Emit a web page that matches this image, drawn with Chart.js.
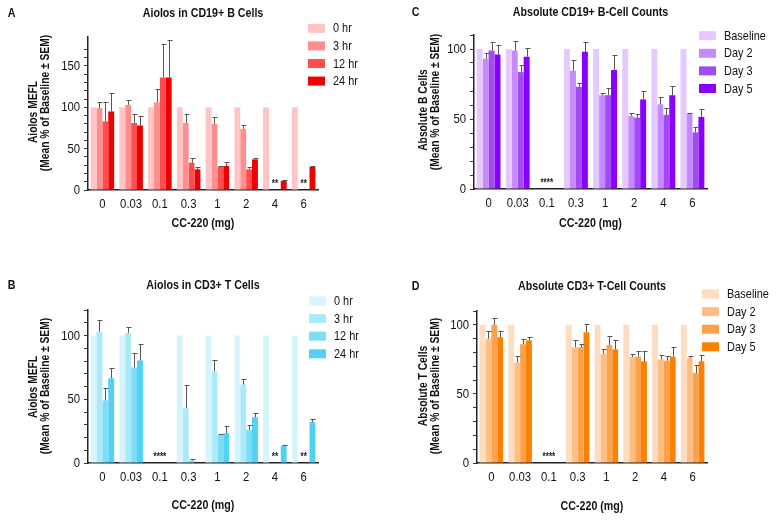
<!DOCTYPE html>
<html>
<head>
<meta charset="utf-8">
<script src="https://cdn.jsdelivr.net/npm/chart.js@4.4.1/dist/chart.umd.min.js"></script>
<style>
  html, body { margin: 0; padding: 0; background: #fff; }
  #wrap { position: relative; width: 777px; height: 520px; overflow: hidden; }
  canvas { position: absolute; }
</style>
</head>
<body>
<div id="wrap">
  <canvas id="panelA" width="388" height="260" style="left:0;top:0"></canvas>
  <canvas id="panelC" width="389" height="260" style="left:388px;top:0"></canvas>
  <canvas id="panelB" width="388" height="260" style="left:0;top:260px"></canvas>
  <canvas id="panelD" width="389" height="260" style="left:388px;top:260px"></canvas>
</div>
<script>
// categories / legend labels
var doses = ['0', '0.03', '0.1', '0.3', '1', '2', '4', '6'];
var hourLabels = ['0 hr', '3 hr', '12 hr', '24 hr'];
var dayLabels = ['Baseline', 'Day 2', 'Day 3', 'Day 5'];
var yTickStep = 50;

// A: Aiolos in CD19+ B cells (mean, SEM)
var bAiolos0h = [100, 100, 100, 100, 100, 100, 100, 100];
var bAiolos3h = [99, 103, 106, 81, 80, 74, null, null];
var bAiolos12h = [83, 81, 136, 33, 28, 25, null, null];
var bAiolos24h = [95, 78, 136, 25, 29, 37, 11, 28];
var bAiolos3hSem = [8, 6, 16, 11, 8, 4, null, null];
var bAiolos12hSem = [24, 11, 40, 6, 1.3, 3, null, null];
var bAiolos24hSem = [22, 11, 45, 2.5, 5, 1.7, 1.3, 1.6];

// B: Aiolos in CD3+ T cells
var tAiolos0h = [100, 100, null, 100, 100, 100, 100, 100];
var tAiolos3h = [103, 102, null, 43, 72, 61.5, null, null];
var tAiolos12h = [49, 75, null, 2, 22, 26, null, null];
var tAiolos24h = [66.5, 80.5, null, null, 23.5, 36, 13.6, 32];
var tAiolos3hSem = [9, 4.5, null, 18, 8.6, 4.2, null, null];
var tAiolos12hSem = [10, 11, null, 1, 0.8, 3.7, null, null];
var tAiolos24hSem = [8, 12.6, null, null, 5.2, 2.9, 0.8, 2.4];

// C: absolute CD19+ B-cell counts
var bCountBase = [100, 100, null, 100, 100, 100, 100, 100];
var bCountD2 = [93, 99, null, 84.5, 67, 52, 60.5, 54];
var bCountD3 = [99, 83.5, null, 73, 67, 51, 53, 40.5];
var bCountD5 = [96, 94.5, null, 98, 85, 64, 67, 51.5];
var bCountD2Sem = [4, 7, null, 8, 1.4, 2.4, 5.5, 0.5];
var bCountD3Sem = [5.8, 4.8, null, 2.9, 5.3, 2.9, 4.8, 3.6];
var bCountD5Sem = [7.2, 6, null, 6.7, 11, 5.8, 6.7, 6];

// D: absolute CD3+ T-cell counts
var tCountBase = [100, 100, null, 100, 100, 100, 100, 100];
var tCountD2 = [90, 72.7, null, 83.7, 79, 76.7, 75, 76];
var tCountD3 = [100, 86, null, 83.7, 85.4, 77, 74, 65.2];
var tCountD5 = [91, 88.7, null, 94.7, 82.3, 73.6, 77, 73.6];
var tCountD2Sem = [5.5, 5, null, 5.3, 3.8, 2.2, 2.9, 1.4];
var tCountD3Sem = [5, 3.4, null, 2.4, 6.7, 3.8, 3.4, 5.8];
var tCountD5Sem = [4.3, 2.6, null, 6, 6.5, 7.2, 7.2, 4.8];

var FONT = '"Liberation Sans", Arial, sans-serif';
Chart.defaults.font.family = FONT;
Chart.defaults.color = '#111';

// text drawn horizontally compressed (fake condensed face)
function narrow(c, txt, x, y, align, sq) {
    c.save();
    c.translate(x, y);
    c.scale(sq || 0.82, 1);
    c.textAlign = align || 'center';
    c.fillText(txt, 0, 0);
    c.restore();
}

function makePanel(id, p) {
    var cv = document.getElementById(id);
    var W = cv.width, H = cv.height;
    var yW = 40, xH = 20;

    var datasets = p.series.map(function(s, i) {
        return {
            label: p.legend[i],
            data: s,
            sem: p.sems[i],
            backgroundColor: p.colors[i],
            borderWidth: 0,
            categoryPercentage: 0.82,
            barPercentage: 1.0
        };
    });

    var extras = {
        id: 'extras_' + id,
        afterDatasetsDraw: function(chart) {
            var c = chart.ctx, ys = chart.scales.y;
            c.save();
            c.strokeStyle = '#555';
            c.lineWidth = 1;
            chart.data.datasets.forEach(function(ds, di) {
                if (!ds.sem) return;
                chart.getDatasetMeta(di).data.forEach(function(bar, j) {
                    var v = ds.data[j], e = ds.sem[j];
                    if (v == null || e == null) return;
                    var x = Math.round(bar.x) + 0.5;
                    var yTop = Math.round(ys.getPixelForValue(v + e)) + 0.5;
                    c.beginPath();
                    c.moveTo(x, bar.y);
                    c.lineTo(x, yTop);
                    c.moveTo(x - 2, yTop);
                    c.lineTo(x + 3, yTop);
                    c.stroke();
                });
            });
            // significance marks
            c.fillStyle = '#222';
            c.font = 'bold 10px ' + FONT;
            c.textBaseline = 'middle';
            p.notes.forEach(function(n) {
                var x = chart.scales.x.getPixelForValue(n.i);
                narrow(c, n.t, x, ys.bottom - 6, 'center');
            });
            c.restore();
        },
        afterDraw: function(chart) {
            var c = chart.ctx;
            var a = chart.chartArea;
            var xs = chart.scales.x, ys = chart.scales.y;
            var cx = (a.left + a.right) / 2;
            c.save();
            c.fillStyle = '#111';
            c.textBaseline = 'middle';
            // tick labels
            c.font = '13px ' + FONT;
            xs.ticks.forEach(function(t, i) {
                narrow(c, xs.getLabelForValue(t.value), xs.getPixelForTick(i), a.bottom + 14, 'center', 0.87);
            });
            ys.ticks.forEach(function(t) {
                if (t.value % yTickStep !== 0) return;
                narrow(c, String(t.value), a.left - 8, ys.getPixelForValue(t.value) + 0.5, 'right', 0.87);
            });
            // panel letter + title
            c.font = 'bold 13px ' + FONT;
            narrow(c, p.letter, p.letterX, p.titleY, 'center');
            narrow(c, p.title, cx, p.titleY, 'center');
            // x axis title
            narrow(c, 'CC-220 (mg)', cx, p.xTitleY, 'center');
            // y axis title (two lines, rotated)
            p.yTitle.forEach(function(l) {
                c.save();
                c.translate(l.x, l.mid);
                c.rotate(-Math.PI / 2);
                narrow(c, l.text, 0, 0, 'center', 0.79);
                c.restore();
            });
            // legend
            c.font = '13px ' + FONT;
            p.legend.forEach(function(lbl, i) {
                var yy = p.legY + i * 17.6;
                c.fillStyle = p.colors[i];
                c.fillRect(p.legX, yy - 4.5, 17, 9);
                c.fillStyle = '#111';
                narrow(c, lbl, p.legX + 25, yy + 0.5, 'left', 0.84);
            });
            c.restore();
        }
    };

    return new Chart(cv.getContext('2d'), {
        type: 'bar',
        data: { labels: doses, datasets: datasets },
        options: {
            responsive: false,
            animation: false,
            layout: {
                padding: {
                    left: p.area.l - yW,
                    right: W - p.area.r,
                    top: p.area.t,
                    bottom: H - p.area.b - xH
                }
            },
            plugins: {
                legend: { display: false },
                title: { display: false },
                tooltip: { enabled: false }
            },
            scales: {
                x: {
                    grid: { display: false, drawTicks: false },
                    border: { display: true, color: '#222', width: 1.5 },
                    ticks: { display: false, autoSkip: false },
                    afterFit: function(s) { s.height = xH; }
                },
                y: {
                    min: 0,
                    max: p.yMax,
                    grid: { drawOnChartArea: false, drawTicks: true, tickLength: 4, color: '#333' },
                    border: { display: true, color: '#222', width: 1.5 },
                    ticks: { display: false, stepSize: 10 },
                    afterBuildTicks: function(s) {
                        s.ticks = s.ticks.filter(function(t) { return t.value % 10 === 0; });
                    },
                    afterFit: function(s) { s.width = yW; }
                }
            }
        },
        plugins: [extras]
    });
}

var semTitle = '(Mean % of Baseline \u00b1 SEM)';

makePanel('panelA', {
    series: [bAiolos0h, bAiolos3h, bAiolos12h, bAiolos24h],
    sems: [null, bAiolos3hSem, bAiolos12hSem, bAiolos24hSem],
    legend: hourLabels,
    colors: ['#FFC4C4', '#FF8E8E', '#FF4D4D', '#EE0000'],
    yMax: 185,
    area: { l: 88, r: 318, t: 37, b: 190 },
    title: 'Aiolos in CD19+ B Cells', letter: 'A', letterX: 11.5, titleY: 13,
    xTitleY: 223,
    yTitle: [
        { text: 'Aiolos MEFL', x: 33, mid: 112 },
        { text: semTitle, x: 45, mid: 103 }
    ],
    legX: 308, legY: 28.3,
    notes: [{ i: 6, t: '**' }, { i: 7, t: '**' }]
});

makePanel('panelB', {
    series: [tAiolos0h, tAiolos3h, tAiolos12h, tAiolos24h],
    sems: [null, tAiolos3hSem, tAiolos12hSem, tAiolos24hSem],
    legend: hourLabels,
    colors: ['#D6F4FC', '#A8E9FA', '#7DDDF7', '#4FD2F5'],
    yMax: 120,
    area: { l: 88, r: 318, t: 50, b: 203 },
    title: 'Aiolos in CD3+ T Cells', letter: 'B', letterX: 11.5, titleY: 25,
    xTitleY: 245,
    yTitle: [
        { text: 'Aiolos MEFL', x: 33, mid: 127 },
        { text: semTitle, x: 45, mid: 126 }
    ],
    legX: 309, legY: 41,
    notes: [{ i: 2, t: '****' }, { i: 6, t: '**' }, { i: 7, t: '**' }]
});

makePanel('panelC', {
    series: [bCountBase, bCountD2, bCountD3, bCountD5],
    sems: [null, bCountD2Sem, bCountD3Sem, bCountD5Sem],
    legend: dayLabels,
    colors: ['#E5C8FF', '#C58AFF', '#A24BF2', '#8A00FF'],
    yMax: 110,
    area: { l: 86, r: 319, t: 35, b: 189 },
    title: 'Absolute CD19+ B-Cell Counts', letter: 'C', letterX: 27.5, titleY: 12,
    xTitleY: 223,
    yTitle: [
        { text: 'Absolute B Cells', x: 35, mid: 110 },
        { text: semTitle, x: 47, mid: 102 }
    ],
    legX: 311, legY: 35.7,
    notes: [{ i: 2, t: '****' }]
});

makePanel('panelD', {
    series: [tCountBase, tCountD2, tCountD3, tCountD5],
    sems: [null, tCountD2Sem, tCountD3Sem, tCountD5Sem],
    legend: dayLabels,
    colors: ['#FEDCC0', '#FDBE84', '#FCA04A', '#FB8200'],
    yMax: 110,
    area: { l: 89, r: 319, t: 51, b: 203 },
    title: 'Absolute CD3+ T-Cell Counts', letter: 'D', letterX: 27.5, titleY: 26,
    xTitleY: 246,
    yTitle: [
        { text: 'Absolute T Cells', x: 35, mid: 126 },
        { text: semTitle, x: 47, mid: 126 }
    ],
    legX: 314, legY: 34,
    notes: [{ i: 2, t: '****' }]
});
</script>
</body>
</html>
